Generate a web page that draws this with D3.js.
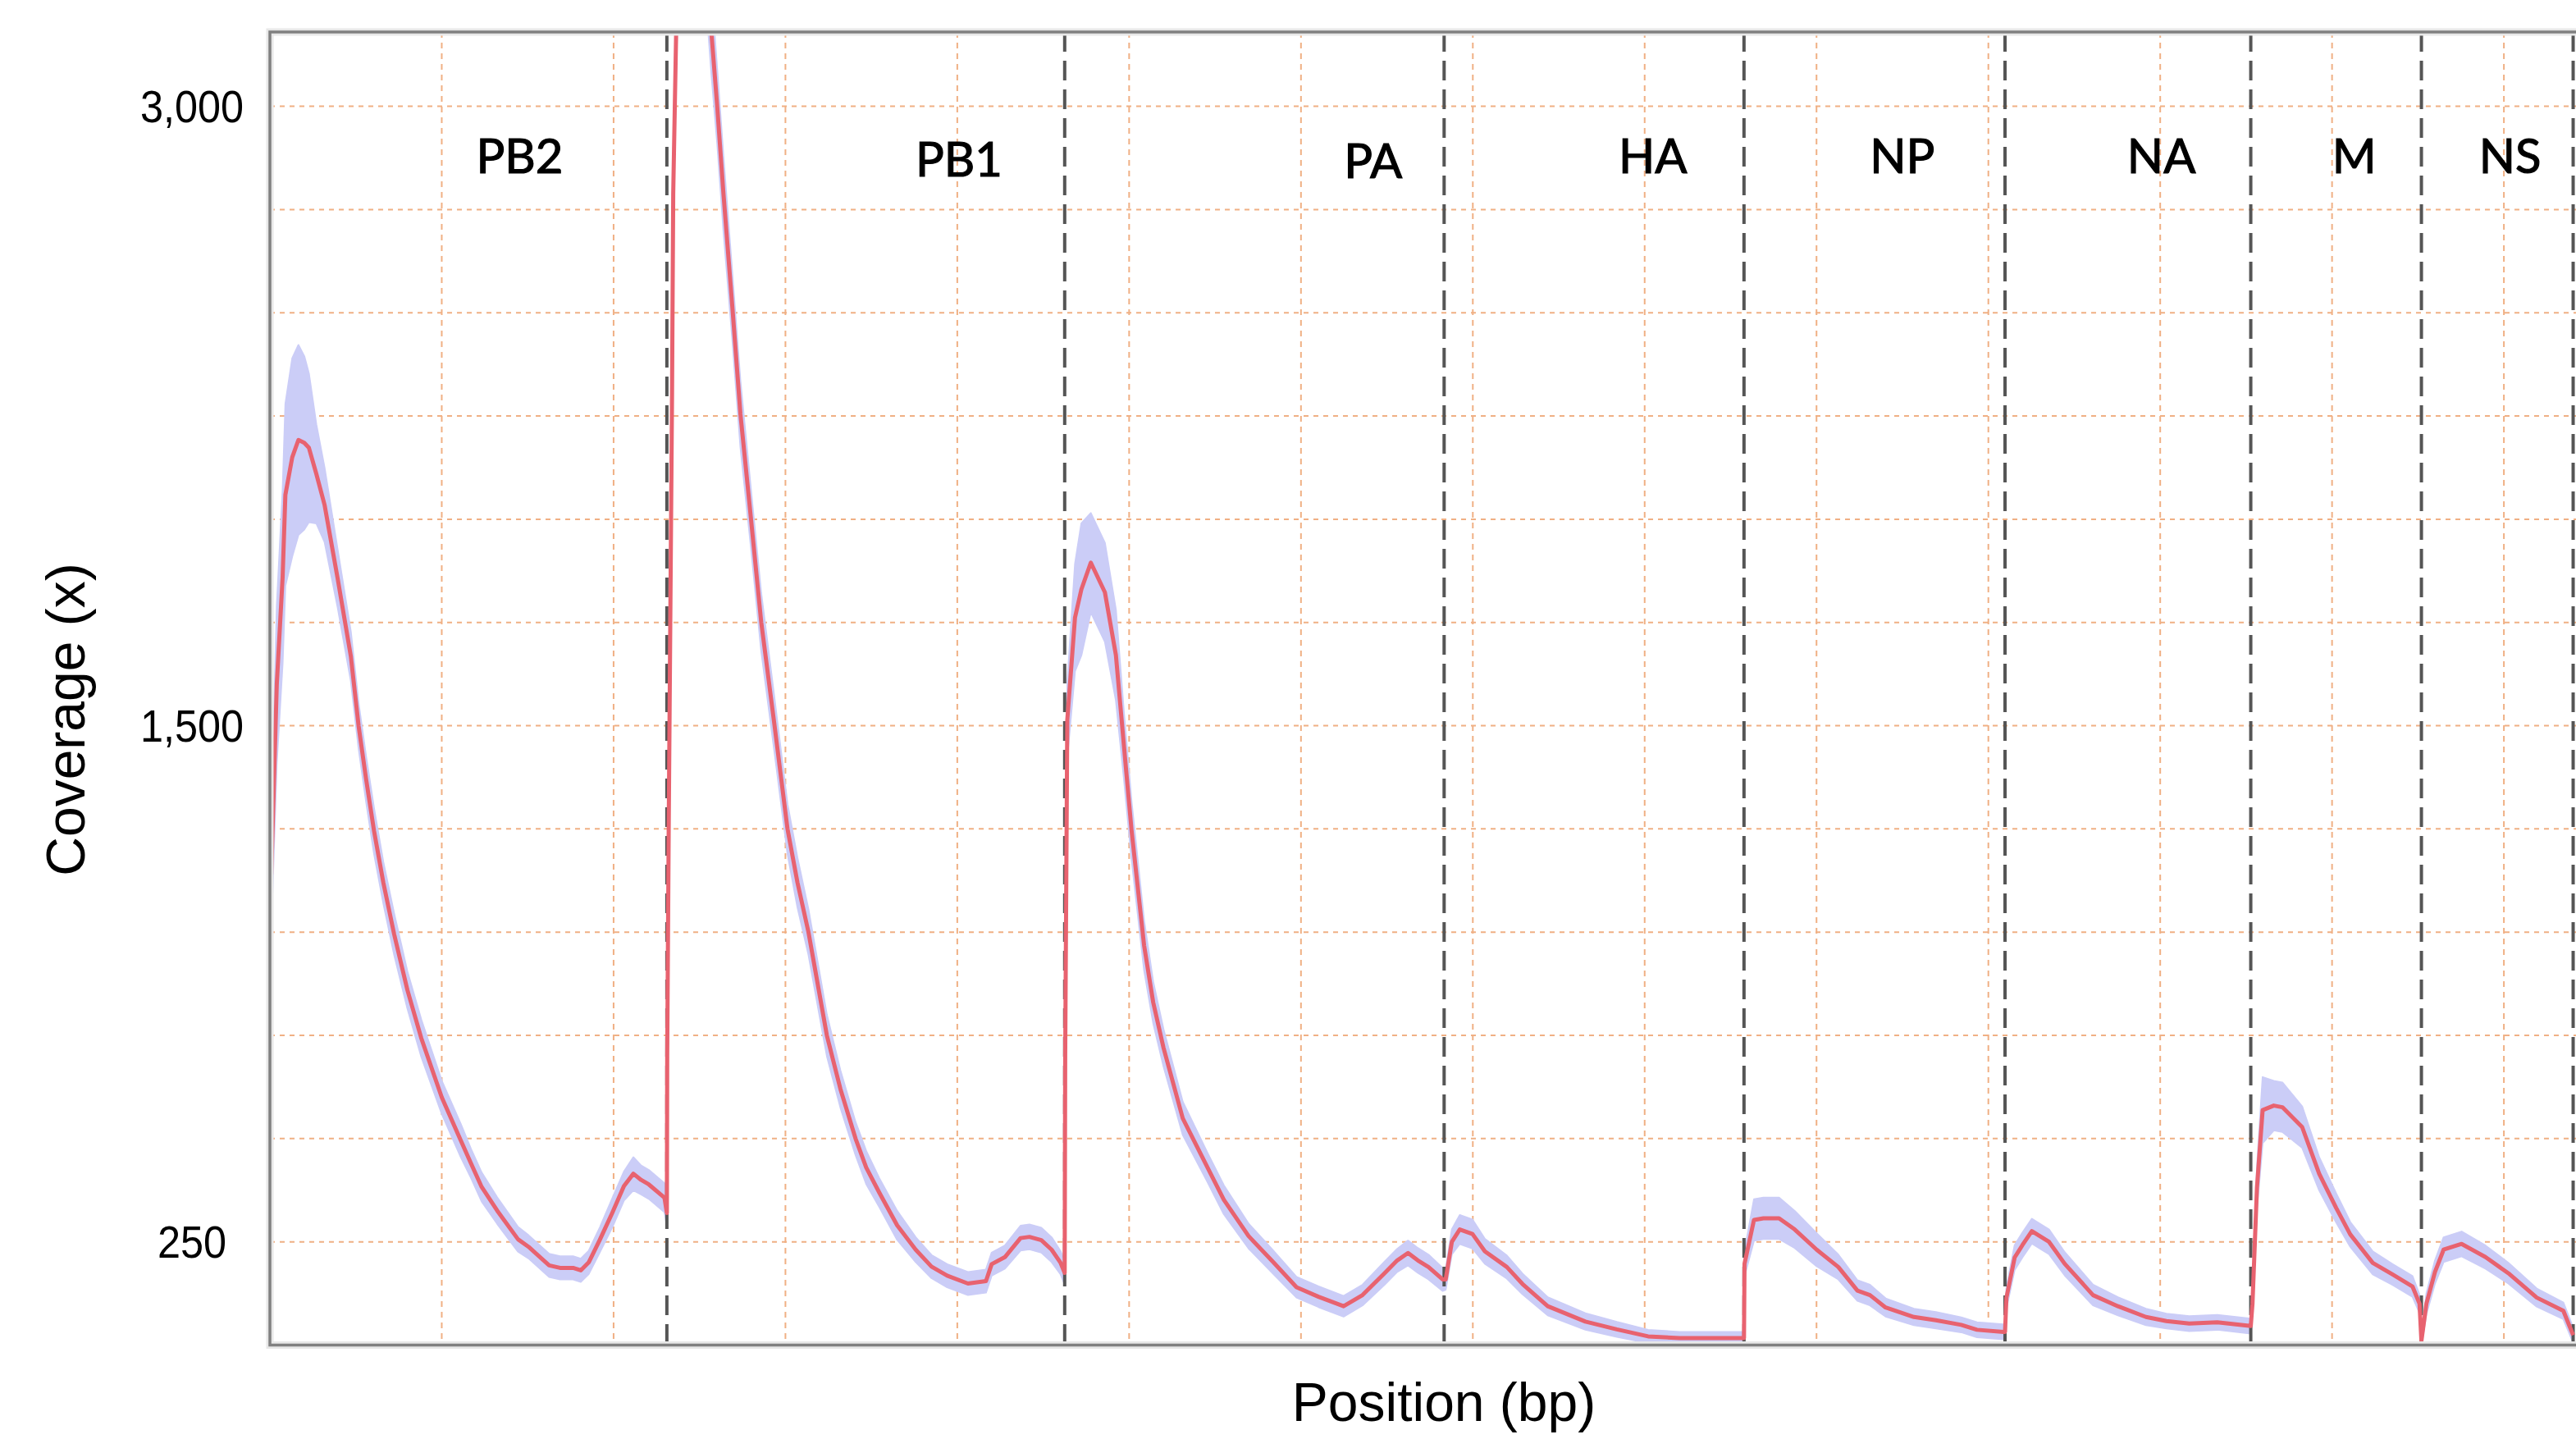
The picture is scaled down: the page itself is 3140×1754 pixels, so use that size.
<!DOCTYPE html>
<html><head><meta charset="utf-8">
<script src="https://cdn.jsdelivr.net/npm/d3@7"></script>
<style>body{margin:0;background:#fff;} svg{display:block}</style>
</head><body>
<svg id="chart" width="3140" height="1754"></svg>
<script>
// ---------- data ----------
const segNames   = ["PB2","PB1","PA","HA","NP","NA","M","NS"];
const segLengths = [2310, 2315, 2208, 1745, 1519, 1430, 993, 883];
const labelPos   = [1453, 4010, 6420, 8048, 9499, 11007, 12129, 13036];
const yTicks     = [250, 1500, 3000];

// position (bp, concatenated genome), mean coverage, band half-width
const pos = [
  0,8,40,74,90,130,166,200,227,270,318,394,471,516,560,606,660,723,800,881,1000,1110,1170,1232,1322,1444,1505,1625,1688,1764,1809,1855,1920,1992,2060,2115,2160,2205,2296,2310,
  2312,2321,2340,2347,2364,2390,2430,2480,2530,2569,2603,2639,2692,2738,2799,2859,2936,3012,3070,3134,3241,3320,3408,3470,3545,3650,3758,3850,3941,4062,4167,4200,4277,4368,4420,4489,4549,4600,4625,
  4628,4640,4685,4722,4777,4859,4923,4970,5014,5087,5140,5200,5312,5455,5551,5695,5838,5974,6102,6248,6358,6486,6560,6623,6680,6742,6824,
  6842,6878,6924,6998,7070,7198,7289,7436,7655,7838,8020,8203,8400,8578,
  8581,8636,8691,8782,8873,9001,9127,9238,9311,9402,9567,9695,9842,9934,10088,10097,
  10105,10153,10198,10253,10353,10444,10609,10754,10917,11036,11169,11332,11527,
  11537,11563,11596,11661,11711,11826,11925,12024,12106,12237,12352,12468,12509,12520,
  12549,12599,12649,12754,12893,13026,13191,13346,13403
];
const mean = [
  1140,1140,1600,1860,2059,2150,2192,2185,2173,2110,2035,1857,1668,1500,1370,1245,1120,995,860,743,600,496,440,383,326,256,238,193,187,187,181,200,255,320,385,415,400,389,357,320,
  700,1270,2300,2790,3179,3600,3850,3700,3400,3179,3000,2790,2509,2255,2003,1751,1502,1250,1120,1000,750,620,500,430,370,290,231,190,168,149,155,196,213,259,262,254,231,200,175,
  700,1513,1762,1830,1895,1823,1671,1450,1247,968,830,720,549,431,352,264,201,140,117,94,121,174,205,223,205,189,159,
  159,250,280,269,227,189,148,94,57,38,21,17,17,17,
  197,303,307,307,280,231,189,132,121,91,68,60,49,37,32,32,
  114,212,242,276,250,197,121,94,68,58,52,55,46,
  100,381,569,580,576,528,415,332,268,199,171,142,100,10,
  100,177,231,245,213,174,115,83,24
];
const spread = [
  140,130,190,210,220,240,230,210,180,120,90,70,60,55,55,55,50,50,45,45,40,40,35,35,32,30,28,28,28,28,28,28,30,35,35,40,35,35,35,30,
  40,50,70,80,90,100,100,100,100,100,90,90,80,80,70,70,65,60,60,55,50,45,40,40,35,35,30,28,28,28,28,28,28,30,30,30,30,28,28,
  50,90,130,160,120,120,110,80,70,60,50,45,40,35,35,30,28,25,25,25,25,28,28,30,30,30,28,
  25,30,35,35,30,28,25,22,20,18,16,15,15,15,
  30,50,50,50,45,40,30,25,25,22,20,20,18,18,18,18,
  25,30,30,30,30,28,25,22,20,18,18,18,18,
  25,50,80,60,60,50,40,35,30,28,25,25,22,18,
  25,28,30,30,28,25,22,20,18
];

// ---------- layout ----------
const W = 3140, H = 1754;
const plot = {left: 329, right: 3200, top: 39, bottom: 1639.5};
const svg = d3.select("#chart");

const x = d3.scaleLinear().domain([0, 13706]).range([plot.left, plot.right]);
const y = d3.scaleLinear().domain([0, 3180]).range([plot.bottom, plot.top]);

svg.append("rect").attr("width", W).attr("height", H).attr("fill", "#fff");

svg.append("defs").append("clipPath").attr("id", "clip")
  .append("rect").attr("x", plot.left).attr("y", plot.top)
  .attr("width", plot.right - plot.left).attr("height", plot.bottom - plot.top);

// gridlines
const grid = svg.append("g");
grid.selectAll("line.h").data(d3.range(250, 3180, 250)).join("line")
  .attr("x1", plot.left).attr("x2", plot.right)
  .attr("y1", d => y(d)).attr("y2", d => y(d))
  .attr("stroke", "#f0b084").attr("stroke-width", 2).attr("stroke-dasharray", "6,6");
grid.selectAll("line.v").data(x.ticks(14).filter(d => d > 0)).join("line")
  .attr("x1", d => x(d)).attr("x2", d => x(d))
  .attr("y1", plot.top).attr("y2", plot.bottom)
  .attr("stroke", "#f0b084").attr("stroke-width", 2).attr("stroke-dasharray", "7,6");

const idx = d3.range(pos.length);
const body = svg.append("g").attr("clip-path", "url(#clip)");

// band
body.append("path").datum(idx)
  .attr("d", d3.area().x(i => x(pos[i])).y0(i => y(Math.max(0, mean[i] - spread[i]))).y1(i => y(mean[i] + spread[i])))
  .attr("fill", "#cbcdf7").attr("stroke", "#cbcdf7").attr("stroke-width", 2)
  .attr("stroke-linejoin", "round");

// segment boundaries
const ends = d3.cumsum(segLengths);
body.selectAll("line.seg").data(Array.from(ends)).join("line")
  .attr("x1", d => x(d)).attr("x2", d => x(d))
  .attr("y1", plot.top).attr("y2", plot.bottom)
  .attr("stroke", "#555").attr("stroke-width", 4).attr("stroke-dasharray", "24,11");

// mean line
body.append("path").datum(idx)
  .attr("d", d3.line().x(i => x(pos[i])).y(i => y(mean[i])))
  .attr("fill", "none").attr("stroke", "#e8626f").attr("stroke-width", 5)
  .attr("stroke-linejoin", "round");

// frame
svg.append("rect").attr("x", plot.left).attr("y", plot.top)
  .attr("width", plot.right - plot.left).attr("height", plot.bottom - plot.top)
  .attr("fill", "none").attr("stroke", "#e8e8e8").attr("stroke-width", 9);
svg.append("rect").attr("x", plot.left).attr("y", plot.top)
  .attr("width", plot.right - plot.left).attr("height", plot.bottom - plot.top)
  .attr("fill", "none").attr("stroke", "#808080").attr("stroke-width", 3.5);

// segment labels
const labelDy = [0, 4, 6, 0, 0, 0, 0, 0];
svg.append("g").selectAll("text").data(segNames).join("text")
  .attr("x", (d, i) => x(labelPos[i]))
  .attr("y", (d, i) => 211 + labelDy[i])
  .attr("text-anchor", "middle")
  .attr("font-family", "Lato, 'Open Sans', sans-serif")
  .attr("font-size", 58)
  .attr("fill", "#000").attr("stroke", "#000").attr("stroke-width", 1.2)
  .text(d => d);

// y axis labels
const yAxis = svg.append("g").attr("transform", "translate(234,0)")
  .call(d3.axisLeft(y).tickValues(yTicks).tickFormat(d3.format(",")).tickSize(0));
yAxis.select(".domain").remove();
yAxis.selectAll("text")
  .attr("x", 0).attr("dy", "0.34em")
  .attr("transform", "scale(0.9,1)")
  .attr("text-anchor", "middle")
  .attr("font-family", "'Liberation Sans', Arial, sans-serif")
  .attr("font-size", 56).attr("fill", "#000");

// axis titles
svg.append("text")
  .attr("transform", "translate(103,877) rotate(-90)")
  .attr("text-anchor", "middle")
  .attr("font-family", "'Liberation Sans', Arial, sans-serif")
  .attr("font-size", 66).attr("fill", "#000")
  .text("Coverage (x)");
svg.append("text")
  .attr("x", 1760).attr("y", 1732)
  .attr("text-anchor", "middle")
  .attr("font-family", "'Liberation Sans', Arial, sans-serif")
  .attr("font-size", 66).attr("fill", "#000")
  .text("Position (bp)");
</script>
</body></html>
